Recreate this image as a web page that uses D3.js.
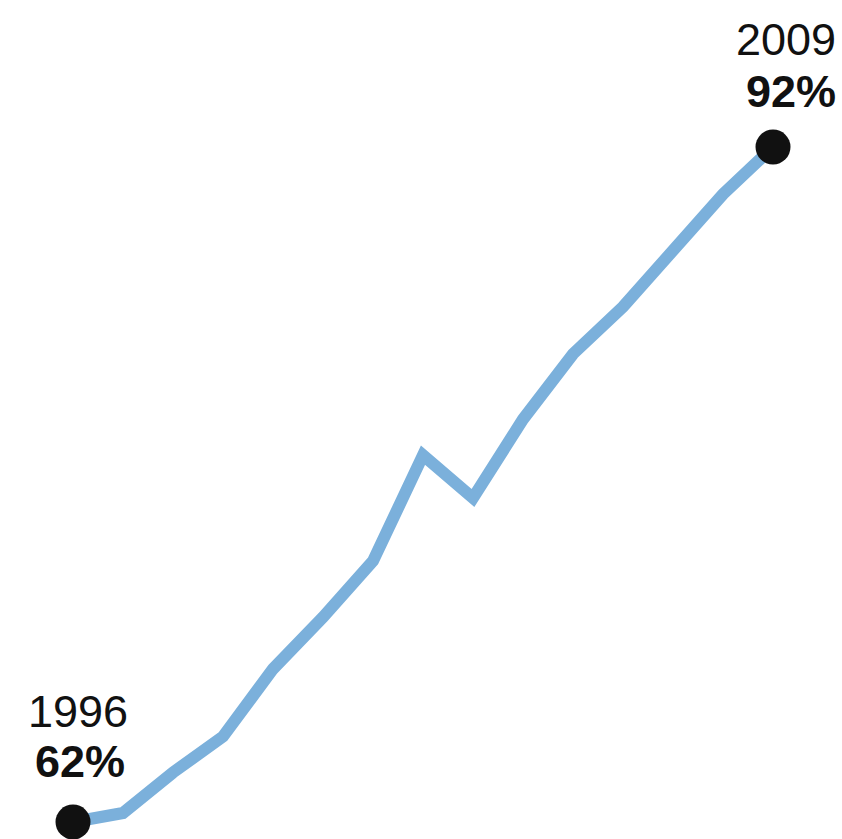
<!DOCTYPE html>
<html>
<head>
<meta charset="utf-8">
<script src="https://cdn.jsdelivr.net/npm/d3@7"></script>
<style>
  html, body { margin: 0; padding: 0; background: #fff; }
  svg { display: block; }
</style>
</head>
<body>
<div id="chart"></div>
<script>
'use strict';

// survey readings, first = 1996, last = 2009
const shares = [62, 62.4, 64.2, 65.8, 68.8, 71.1, 73.6, 78.3, 76.4, 79.9, 82.8, 84.9, 87.4, 89.9, 92];
const endYears = ['1996', '2009'];
const endLabels = ['62%', '92%'];

const W = 842, H = 839;

const svg = d3.select('#chart').append('svg')
    .attr('width', W).attr('height', H)
    .attr('viewBox', `0 0 ${W} ${H}`);

const x = d3.scaleLinear().domain([0, shares.length - 1]).range([73, 773]);
const y = d3.scaleLinear().domain([62, 92]).range([822, 147]);

const line = d3.line()
    .x((d, i) => x(i))
    .y(d => y(d));

svg.append('path')
    .datum(shares)
    .attr('d', line)
    .attr('fill', 'none')
    .attr('stroke', '#7bb0db')
    .attr('stroke-width', 12)
    .attr('stroke-linejoin', 'miter');

/* end points */
const ends = [0, shares.length - 1];
svg.selectAll('circle.end')
    .data(ends)
    .join('circle')
    .attr('class', 'end')
    .attr('cx', i => x(i))
    .attr('cy', i => y(shares[i]))
    .attr('r', 17.5)
    .attr('fill', '#111');

/* end labels */
const font = '"Liberation Sans", Arial, Helvetica, sans-serif';
const lab = svg.append('g').attr('font-family', font).attr('fill', '#111');

// 1996 — above the first dot
lab.append('text').attr('x', x(0) + 5).attr('y', y(shares[0]) - 95)
    .attr('text-anchor', 'middle').attr('font-size', 45).text(endYears[0]);
lab.append('text').attr('x', x(0) + 7).attr('y', y(shares[0]) - 45)
    .attr('text-anchor', 'middle').attr('font-size', 45).attr('font-weight', 'bold').text(endLabels[0]);

// 2009 — above the last dot, right aligned
lab.append('text').attr('x', 836).attr('y', y(shares[shares.length - 1]) - 92)
    .attr('text-anchor', 'end').attr('font-size', 45).text(endYears[1]);
lab.append('text').attr('x', 836).attr('y', y(shares[shares.length - 1]) - 40)
    .attr('text-anchor', 'end').attr('font-size', 45).attr('font-weight', 'bold').text(endLabels[1]);
</script>
</body>
</html>
